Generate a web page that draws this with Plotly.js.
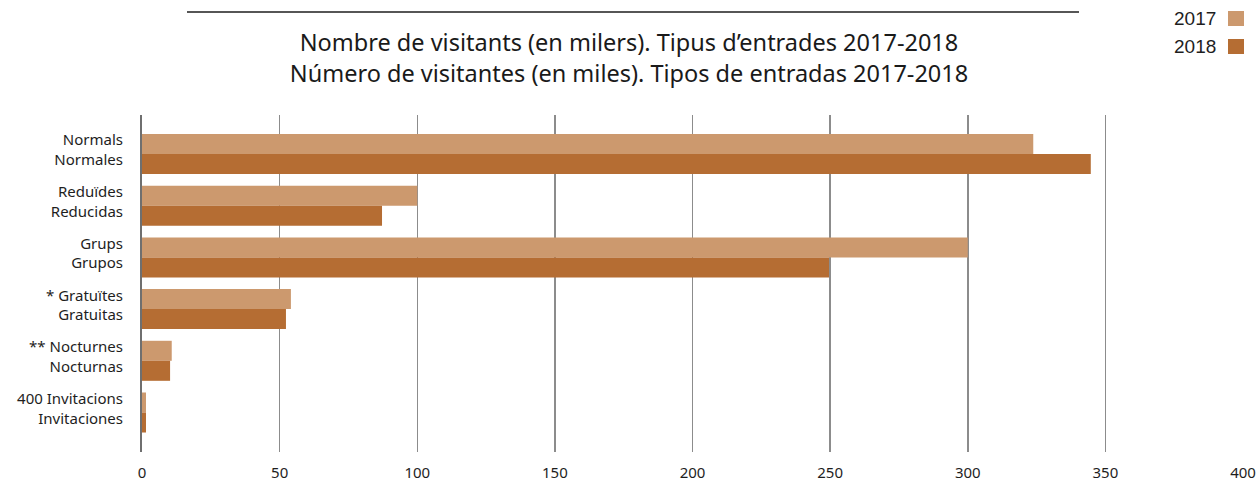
<!DOCTYPE html>
<html>
<head>
<meta charset="utf-8">
<script src="https://cdn.plot.ly/plotly-3.0.1.min.js"></script>
<style>html,body{margin:0;padding:0;background:#fff;}#chart{width:1258px;height:483px;}</style>
</head>
<body>
<div id="chart"></div>
<script>
// ---- data ----
var labelsCa = ['Normals', 'Reduïdes', 'Grups', '* Gratuïtes', '** Nocturnes', '400 Invitacions'];
var labelsEs = ['Normales', 'Reducidas', 'Grupos', 'Gratuitas', 'Nocturnas', 'Invitaciones'];
var values2017 = [323.8, 100.0, 300.0, 54.1, 10.8, 1.45];
var values2018 = [344.7, 87.2, 249.6, 52.3, 10.2, 1.45];
var seriesNames = ['2017', '2018'];
var xTicks = [0, 50, 100, 150, 200, 250, 300, 350, 400];
var titleLines = ['Nombre de visitants (en milers). Tipus d\u2019entrades 2017-2018',
                  'Número de visitantes (en miles). Tipos de entradas 2017-2018'];

var colors = ['#cc996e', '#b56d33'];
var cats = labelsCa.map(function (c, i) { return c + '<br>' + labelsEs[i]; });
var FONT = 'Noto Sans, sans-serif';

var traces = [values2017, values2018].map(function (vals, i) {
  return {
    type: 'bar', orientation: 'h', name: seriesNames[i],
    x: vals, y: cats,
    marker: {color: colors[i], line: {width: 0}},
    showlegend: false,
    hoverinfo: 'x+name'
  };
});

var layout = {
  width: 1258, height: 483,
  margin: {l: 142, r: 15, t: 115, b: 31},
  paper_bgcolor: '#fff', plot_bgcolor: '#fff',
  font: {family: FONT, color: '#1e1e1e'},
  barmode: 'group', bargap: 0.226, bargroupgap: 0,
  title: {
    text: titleLines.join('<br>'),
    font: {family: FONT, size: 23.5, color: '#1a1a1a'},
    xref: 'container', x: 0.5, xanchor: 'center',
    yref: 'container', y: 1 - 51 / 483, yanchor: 'top'
  },
  xaxis: {
    range: [0, 400], tickvals: xTicks, ticktext: xTicks.map(String),
    showgrid: true, gridcolor: '#8c8c8c', gridwidth: 1.5,
    zeroline: false, showline: false, ticks: '',
    ticklabelstandoff: 10,
    tickfont: {family: FONT, size: 15, color: '#1e1e1e'},
    fixedrange: true
  },
  yaxis: {
    type: 'category', categoryorder: 'array', categoryarray: cats,
    range: [5.764, -0.754],
    showgrid: false, zeroline: false,
    showline: true, linecolor: '#6f6f6f', linewidth: 2, layer: 'above traces',
    ticks: '', ticklabelstandoff: 14, ticklabelshift: 4,
    tickfont: {family: FONT, size: 15, color: '#1e1e1e'},
    fixedrange: true
  },
  shapes: [
    {type: 'line', xref: 'paper', yref: 'paper',
     x0: (187 - 142) / 1101, x1: (1079 - 142) / 1101,
     y0: (483 - 31 - 12) / 337, y1: (483 - 31 - 12) / 337,
     line: {color: '#1e1e1e', width: 1.5}}
  ],
  annotations: []
};

// legend (text left, swatch right) in pixel-derived paper coords
var plotW = 1258 - 142 - 15, plotH = 483 - 115 - 31;
function px(x) { return (x - 142) / plotW; }
function py(y) { return (483 - 31 - y) / plotH; }
var legY = [18.5, 46.5];
seriesNames.forEach(function (n, i) {
  layout.annotations.push({
    xref: 'paper', yref: 'paper', x: px(1218), y: py(legY[i]),
    xanchor: 'right', yanchor: 'middle', text: n, showarrow: false,
    font: {family: 'Liberation Sans, Arial, sans-serif', size: 19, color: '#1e1e1e'}
  });
  layout.shapes.push({
    type: 'rect', xref: 'paper', yref: 'paper',
    x0: px(1228), x1: px(1244), y0: py(legY[i] + 7.5), y1: py(legY[i] - 7.5),
    fillcolor: colors[i], line: {width: 0}
  });
});

Plotly.newPlot('chart', traces, layout, {displayModeBar: false, staticPlot: true});
</script>
</body>
</html>
